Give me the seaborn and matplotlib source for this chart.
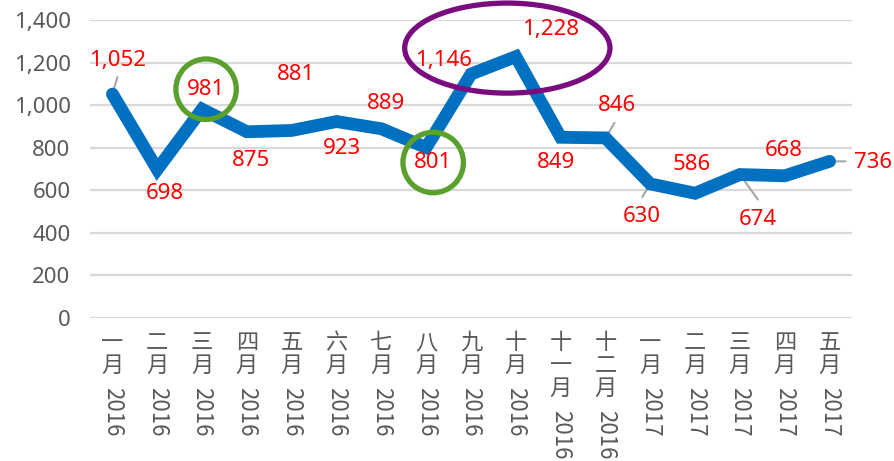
import numpy as np
import pandas as pd
import matplotlib
matplotlib.use("Agg")
import matplotlib.pyplot as plt
from matplotlib.patches import Ellipse
from matplotlib.ticker import FuncFormatter
import seaborn as sns

# monthly values, Jan 2016 - May 2017
month_chars = ["一月", "二月", "三月", "四月", "五月", "六月", "七月", "八月", "九月",
               "十月", "十一月", "十二月", "一月", "二月", "三月", "四月", "五月"]
years = ["2016"] * 12 + ["2017"] * 5
values = [1052, 698, 981, 875, 881, 923, 889, 801, 1146, 1228,
          849, 846, 630, 586, 674, 668, 736]

# label placement (offset pixels from each point)
label_offsets = [(5, 34), (8, -24), (4, 20), (4, -29), (4, 56), (5, -27), (5, 25),
                 (7, -15), (-28, 14), (35, 27), (-5, -25), (11, 32), (-9, -33),
                 (-3, 29), (18, -45), (-1, 25), (43, -1)]
leaders = {0: (5, 17), 11: (9, 15), 12: (-8, -13), 14: (18, -25), 16: (16, 0)}
circled = [2, 7]

df = pd.DataFrame({"pos": np.arange(len(values)), "value": values})

sns.set_theme(style="white")
plt.rcParams["font.family"] = ["Noto Sans", "DejaVu Sans"]

fig = plt.figure(figsize=(8.94, 4.61), dpi=100)
ax = fig.add_axes([0.1007, 0.3102, 0.8523, 0.6464])

sns.lineplot(data=df, x="pos", y="value", ax=ax, color="#0070C0", linewidth=9.2,
             solid_capstyle="round", solid_joinstyle="miter", zorder=2)

ax.set_xlim(-0.5, len(values) - 0.5)
ax.set_ylim(0, 1400)
ax.set_yticks(range(0, 1401, 200))
ax.yaxis.set_major_formatter(FuncFormatter(lambda v, _: f"{int(v):,}"))
ax.yaxis.grid(True, color="#D9D9D9", linewidth=1.6)
ax.set_axisbelow(True)
ax.set_xticks(df["pos"])
ax.set_xticklabels([])
ax.tick_params(axis="x", length=0)
ax.tick_params(axis="y", length=0, pad=14, labelsize=16, labelcolor="#595959")
ax.set_xlabel("")
ax.set_ylabel("")
for s in ax.spines.values():
    s.set_visible(False)

# data labels
for i, v in enumerate(values):
    if i in leaders:
        ax.annotate("", xy=(i, v), xytext=leaders[i], textcoords="offset pixels",
                    arrowprops=dict(arrowstyle="-", color="#A6A6A6", lw=1.5,
                                    shrinkA=0, shrinkB=0), zorder=1)
    kw = {}
    if i in circled:
        kw["bbox"] = dict(boxstyle="circle,pad=0.5", fc="none", ec="#5AA02C", lw=3.8)
    ax.annotate(f"{v:,}", xy=(i, v), xytext=label_offsets[i], textcoords="offset pixels",
                ha="center", va="center", color="#FF0000", fontsize=16, zorder=3, **kw)

# highlight of the peak months
peak = Ellipse((8.81, 1268), width=4.58, height=423, fill=False, ec="#7B0C80",
               lw=3.8, clip_on=False, zorder=4)
ax.add_patch(peak)

# vertical month labels: upright characters, rotated year
cjk = ["Noto Sans CJK SC", "DejaVu Sans"]
for i, (chars, yr) in enumerate(zip(month_chars, years)):
    for k, ch in enumerate(chars):
        ax.annotate(ch, xy=(i, 0), xycoords=("data", "axes fraction"),
                    xytext=(0, -13 - 23 * k), textcoords="offset pixels",
                    ha="center", va="top", fontsize=16, color="#595959", family=cjk)
    ax.annotate(yr, xy=(i, 0), xycoords=("data", "axes fraction"),
                xytext=(0, -69 - 23 * (len(chars) - 2)), textcoords="offset pixels",
                ha="center", va="top", rotation=-90, fontsize=16, color="#595959",
                family=cjk)

fig.savefig("out.png", dpi=100)
